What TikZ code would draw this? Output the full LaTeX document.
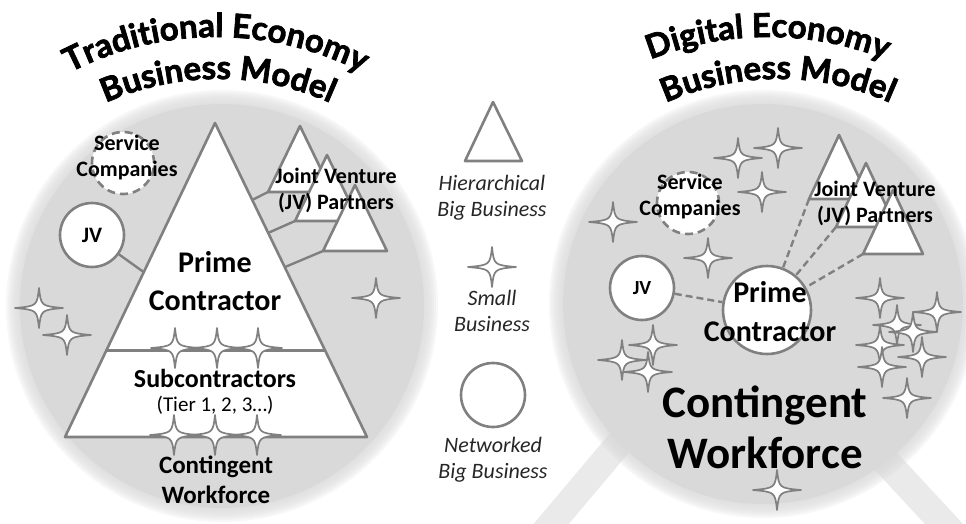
\documentclass[tikz,border=0pt]{standalone}
\usepackage{fontspec}
\setmainfont{Carlito}
\newfontfamily\titlefont{Lato}[BoldFeatures={FakeBold=2.2}]
\usetikzlibrary{calc,decorations.text}

\definecolor{discgray}{RGB}{217,217,217}
\definecolor{leggray}{RGB}{234,234,234}
\definecolor{edgegray}{RGB}{128,128,128}

\tikzset{
  shape line/.style={draw=edgegray, line width=2.6pt, fill=white, line join=round},
  link line/.style={draw=edgegray, line width=2.4pt},
  dash link/.style={link line, dash pattern=on 7pt off 4pt},
  jv circle/.style={circle, shape line, minimum size=64pt, inner sep=0pt},
  svc circle/.style={jv circle, minimum size=62pt, dash pattern=on 8pt off 5pt},
  label text/.style={font=\bfseries\fontsize{22}{26}\selectfont, align=center},
  legend text/.style={font=\itshape\fontsize{22}{26}\selectfont, text=black!85, align=center},
  title arc/.style={decorate, decoration={text along path, text align=center,
    text={|\titlefont\bfseries\fontsize{33}{33}\selectfont|#1}}},
  sparkle/.pic={
    \filldraw[draw=edgegray, fill=white, line width=1.7pt, line join=round]
      (24,0) .. controls (2,2) .. (0,20) .. controls (-2,2) .. (-24,0)
      .. controls (-2,-2) .. (0,-20) .. controls (2,-2) .. cycle;
  }
}

\begin{document}
\begin{tikzpicture}[x=1pt, y=-1pt]
  \useasboundingbox (0,0) rectangle (966,523);

  % stand under the right disc
  \draw[leggray, line width=27pt] (711,334) -- (520,561);
  \draw[leggray, line width=28pt] (754,319) -- (981,564);

  % the two discs, soft edge
  \coordinate (cL) at (222,306);
  \coordinate (cR) at (763,304);
  \fill[discgray] (cL) circle[radius=202];
  \fill[discgray] (cR) circle[radius=200];
  \foreach \k in {0,...,7} {
    \fill[discgray, opacity=0.2] (cL) circle[radius=202+2*\k];
    \fill[discgray, opacity=0.2] (cR) circle[radius=200+2*\k];
  }

  % titles
  \path[title arc={Traditional Economy}] (216,355) ++(-140:318) arc[start angle=-140, end angle=-40, radius=318];
  \path[title arc={Business Model}] (218,355) ++(-140:276) arc[start angle=-140, end angle=-40, radius=276];
  \path[title arc={Digital Economy}] (768,355) ++(-140:318) arc[start angle=-140, end angle=-40, radius=318];
  \path[title arc={Business Model}] (778,355) ++(-140:276) arc[start angle=-140, end angle=-40, radius=276];

  % ---- traditional economy ----
  \coordinate (pcTop) at (215,123);
  \coordinate (pcBL) at (65,437);
  \coordinate (pcBR) at (367,437);

  \node[svc circle] (svcL) at (123,163) {};
  \node[jv circle, label text] (jvL) at (92,235) {JV};
  \draw[link line] (jvL) -- ($(pcTop)!0.475!(pcBL)$);

  \foreach \n/\x/\y in {1/300/126, 2/327/155, 3/355/185} {
    \draw[shape line] (\x,\y) -- ++(32,66) -- ++(-64,0) -- cycle;
    \coordinate (jvl\n) at ($(\x,\y)+(-32,66)$);
  }
  \draw[link line] ($(pcTop)!0.245!(pcBR)$) -- (jvl1);
  \draw[link line] ($(pcTop)!0.35!(pcBR)$) -- (jvl2);
  \draw[link line] ($(pcTop)!0.459!(pcBR)$) -- (jvl3);

  \draw[shape line] (pcTop) -- (pcBR) -- (pcBL) -- cycle;
  \draw[link line] ($(pcTop)!0.725!(pcBL)$) -- ($(pcTop)!0.725!(pcBR)$);

  \foreach \p in {(39,308), (67,335), (376,298), (175,348), (217,348), (258,348),
                  (174,435), (215,435), (257,435)}
    \pic at \p {sparkle};

  \node[label text] (svcLtext) at (127,158) {Service\\Companies};
  \node[label text] (jvLtext) at (336,190) {Joint Venture\\(JV) Partners};
  \node[font=\bfseries\fontsize{30}{38}\selectfont, align=center] (primeL) at (215,281) {Prime\\Contractor};
  \node[font=\bfseries\fontsize{26}{30}\selectfont] (subL) at (215,378) {Subcontractors};
  \node[font=\fontsize{21}{24}\selectfont] (tierL) at (215,405) {(Tier 1, 2, 3…)};
  \node[font=\bfseries\fontsize{25}{30}\selectfont, align=center] (cwL) at (216,480) {Contingent\\Workforce};

  % ---- legend ----
  \coordinate (hbTop) at (493,102);
  \draw[shape line] (hbTop) -- (522,161) -- (465,161) -- cycle;
  \node[legend text] (hbText) at (492,198) {Hierarchical\\Big Business};
  \pic at (492,267) {sparkle};
  \node[legend text] (sbText) at (492,311) {Small\\Business};
  \node[jv circle] (nbIcon) at (493,395) {};
  \node[legend text] (nbText) at (493,460) {Networked\\Big Business};

  % ---- digital economy ----
  \node[svc circle] (svcR) at (688,203) {};
  \foreach \n/\x/\y in {1/839/135, 2/866/163, 3/893/190} {
    \draw[shape line] (\x,\y) -- ++(30,64) -- ++(-60,0) -- cycle;
    \coordinate (jvr\n) at ($(\x,\y)+(-30,64)$);
  }
  \node[circle, shape line, minimum size=88pt, inner sep=0pt] (primeR) at (767,310) {};
  \node[jv circle, label text, font=\bfseries\fontsize{20}{24}\selectfont] (jvR) at (642,288) {JV};
  \draw[dash link] (jvR) -- (primeR);
  \draw[dash link] (jvr1) -- (primeR);
  \draw[dash link] (jvr2) -- (primeR);
  \draw[dash link] (jvr3) -- (primeR);

  \foreach \p in {(738,158), (778,148), (762,192), (613,222), (708,258),
                  (622,360), (653,345), (648,372), (880,298), (897,325),
                  (913,332), (937,312), (880,345), (882,367), (922,357),
                  (907,398), (777,490)}
    \pic at \p {sparkle};

  \node[label text] (svcRtext) at (690,197) {Service\\Companies};
  \node[label text] (jvRtext) at (875,203) {Joint Venture\\(JV) Partners};
  \node[font=\bfseries\fontsize{30}{39}\selectfont, align=center] (primeRtext) at (770,312) {Prime\\Contractor};
  \node[font=\bfseries\fontsize{45}{51}\selectfont, align=center] (cwR) at (765,427) {Contingent\\Workforce};
\end{tikzpicture}
\end{document}
